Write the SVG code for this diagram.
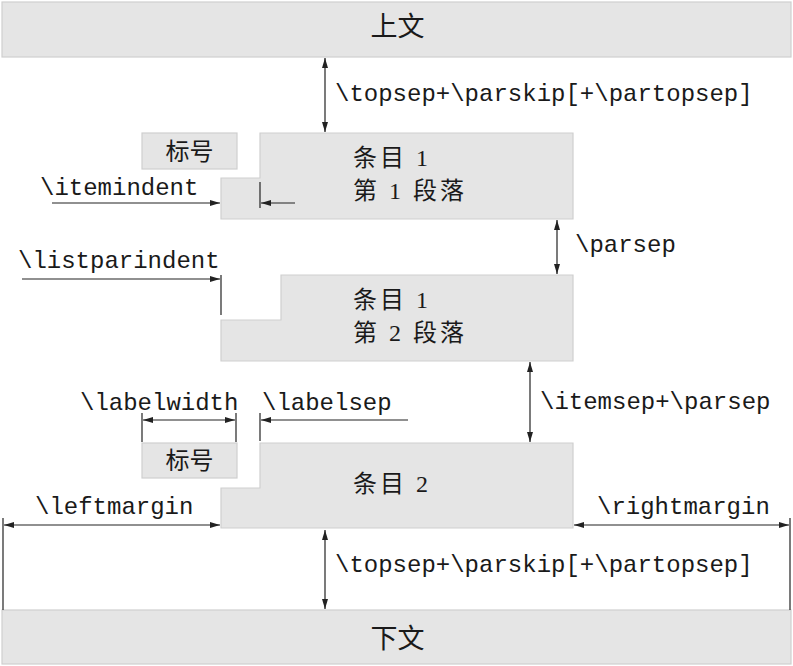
<svg xmlns="http://www.w3.org/2000/svg" width="793" height="666" viewBox="0 0 793 666">
<style>
.blk{fill:#e5e5e5;stroke:#cfcfcf;stroke-width:1.2}
.tt{font-family:"Liberation Mono","DejaVu Sans Mono",monospace;font-size:24px;fill:#1a1a1a}
.cj{font-family:"Liberation Serif","Noto Sans CJK SC",serif;font-size:24px;letter-spacing:3px;fill:#1a1a1a}
.big{font-family:"Liberation Serif","Noto Sans CJK SC",serif;font-size:27px;fill:#1a1a1a}
.ln{stroke:#222;stroke-width:1.2;fill:none}
.ar{stroke:#222;stroke-width:1.2;fill:none;marker-end:url(#ah)}
.ar2{stroke:#222;stroke-width:1.2;fill:none;marker-start:url(#ah);marker-end:url(#ah)}
</style>
<defs>
<marker id="ah" viewBox="0 0 10 6" refX="10" refY="3" markerWidth="10" markerHeight="6" markerUnits="userSpaceOnUse" orient="auto-start-reverse">
<path d="M0,0 L10,3 L0,6 Z" fill="#222"/>
</marker>
</defs>
<g id="upper">
<rect class="blk" x="2" y="2" width="789" height="55"/>
<text class="big" x="397.5" y="36" text-anchor="middle">上文</text>
</g>
<g id="label1">
<rect class="blk" x="142" y="133" width="95" height="36"/>
<text class="cj" x="189.5" y="160" text-anchor="middle" style="letter-spacing:0">标号</text>
</g>
<g id="item1p1">
<polygon class="blk" points="260,133 573,133 573,219 221,219 221,178 260,178"/>
<text class="cj" x="353" y="166">条目 1</text>
<text class="cj" x="353" y="199">第 1 段落</text>
</g>
<g id="item1p2">
<polygon class="blk" points="281,275 573,275 573,361 221,361 221,320 281,320"/>
<text class="cj" x="353" y="308">条目 1</text>
<text class="cj" x="353" y="341">第 2 段落</text>
</g>
<g id="label2">
<rect class="blk" x="142" y="443" width="95" height="35"/>
<text class="cj" x="189.5" y="469" text-anchor="middle" style="letter-spacing:0">标号</text>
</g>
<g id="item2">
<polygon class="blk" points="260,443 573,443 573,528 221,528 221,488 260,488"/>
<text class="cj" x="353" y="492">条目 2</text>
</g>
<g id="lower">
<rect class="blk" x="2" y="610" width="789" height="54"/>
<text class="big" x="397.5" y="648" text-anchor="middle">下文</text>
</g>
<g id="connectors">
<line class="ar2" x1="325" y1="58" x2="325" y2="132"/>
<line class="ar" x1="52" y1="203" x2="220" y2="203"/>
<line class="ln" x1="260" y1="182" x2="260" y2="208"/>
<line class="ar" x1="295" y1="203" x2="261" y2="203"/>
<line class="ar2" x1="557" y1="220" x2="557" y2="274"/>
<line class="ar" x1="22" y1="279" x2="220" y2="279"/>
<line class="ln" x1="221" y1="275" x2="221" y2="315"/>
<line class="ar2" x1="530" y1="362" x2="530" y2="442"/>
<line class="ln" x1="142" y1="413" x2="142" y2="442"/>
<line class="ln" x1="236" y1="413" x2="236" y2="442"/>
<line class="ar2" x1="143" y1="420" x2="235" y2="420"/>
<line class="ln" x1="260" y1="413" x2="260" y2="441"/>
<line class="ar" x1="408" y1="420" x2="261" y2="420"/>
<line class="ln" x1="3" y1="518" x2="3" y2="610"/>
<line class="ar2" x1="4" y1="525" x2="220" y2="525"/>
<line class="ln" x1="790" y1="518" x2="790" y2="610"/>
<line class="ar2" x1="574" y1="525" x2="789" y2="525"/>
<line class="ar2" x1="325" y1="530" x2="325" y2="609"/>
</g>
<g id="labels">
<text class="tt" x="335" y="101">\topsep+\parskip[+\partopsep]</text>
<text class="tt" x="40" y="195">\itemindent</text>
<text class="tt" x="18" y="268">\listparindent</text>
<text class="tt" x="575" y="252">\parsep</text>
<text class="tt" x="540" y="409">\itemsep+\parsep</text>
<text class="tt" x="80" y="410">\labelwidth</text>
<text class="tt" x="262" y="410">\labelsep</text>
<text class="tt" x="35" y="514">\leftmargin</text>
<text class="tt" x="597" y="514">\rightmargin</text>
<text class="tt" x="335" y="572">\topsep+\parskip[+\partopsep]</text>
</g>
</svg>
